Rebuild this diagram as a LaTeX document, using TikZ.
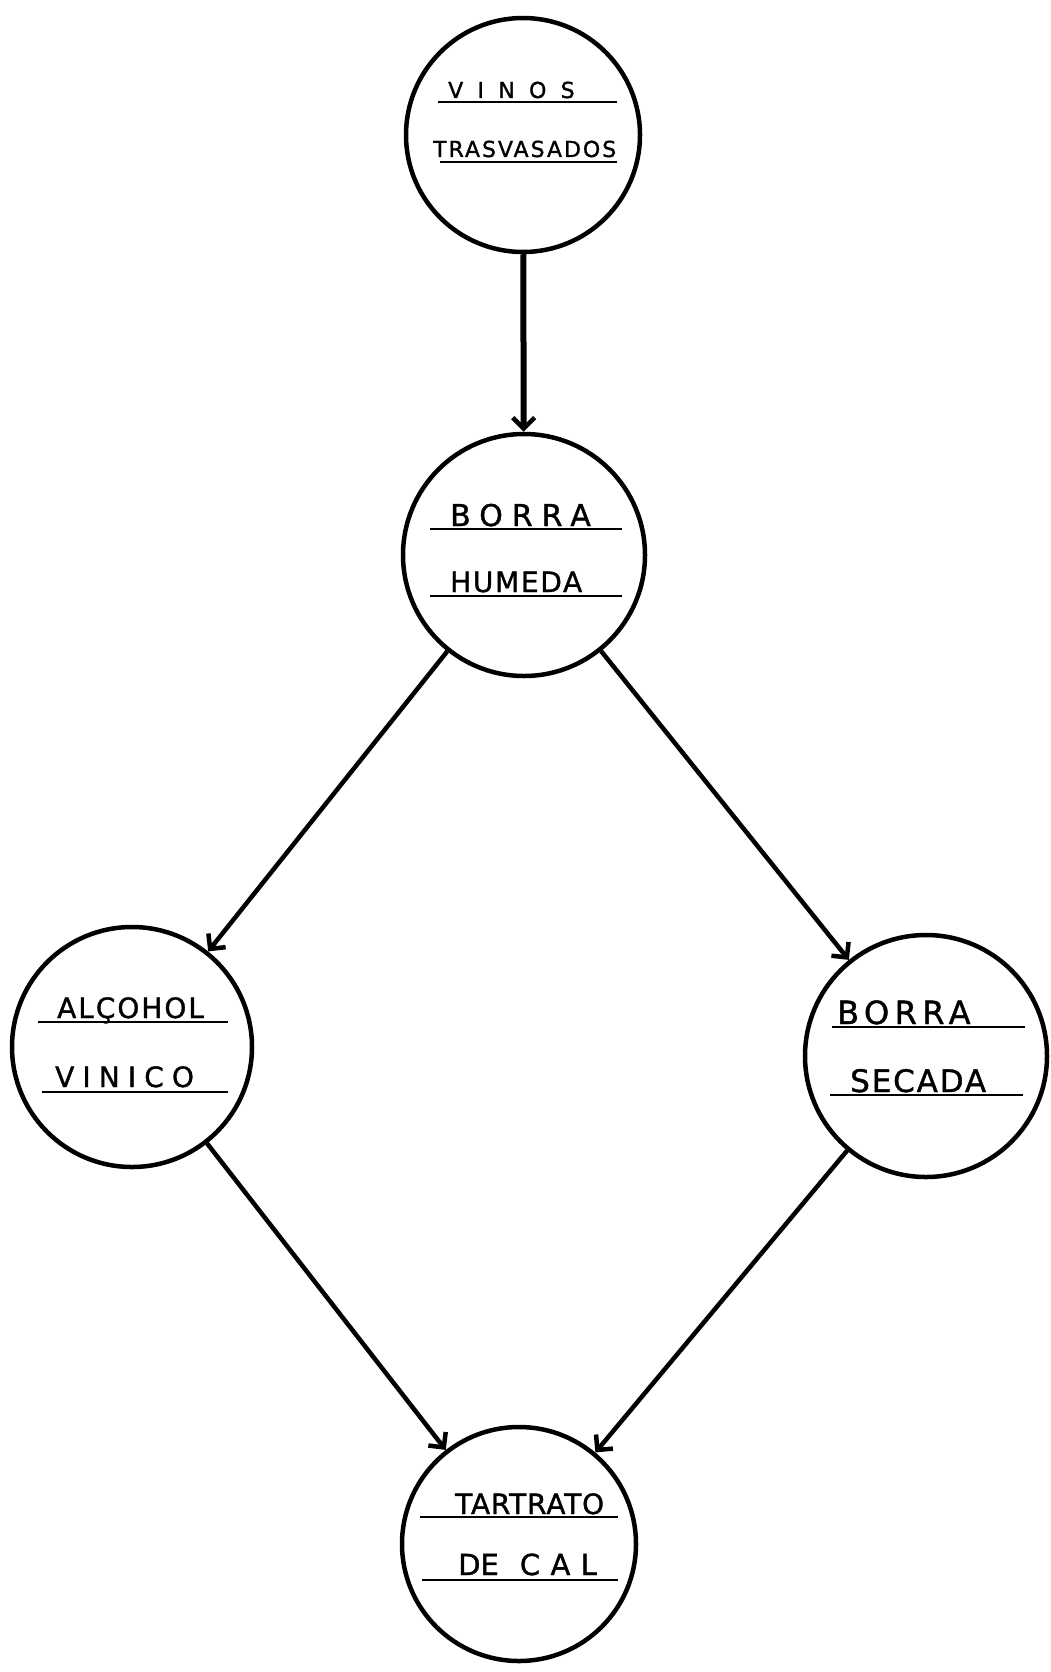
\documentclass[tikz,border=0pt]{standalone}
\usepackage{fontspec}
\setmainfont{DejaVu Sans}[FakeBold=1.2]
\usetikzlibrary{arrows.meta}
\tikzset{
  circ/.style={draw, circle, line width=4.5pt, inner sep=0pt},
  lbl/.style={anchor=base west, inner sep=0pt},
  uline/.style={line width=2.2pt},
  flow/.style={line width=4.5pt, -{Straight Barb[length=11pt,width=22pt,line width=4.5pt]}},
}
\newcommand{\lsp}[2]{\fontsize{#1}{#1}\selectfont\addfontfeatures{LetterSpace=#2}}
\begin{document}
\begin{tikzpicture}[x=1pt,y=-1pt]
\fill[white] (0,0) rectangle (1051,1672);
\useasboundingbox (0,0) rectangle (1051,1672);

% circles
\node[circ, minimum size=234pt] (c1) at (523,135) {};
\node[circ, minimum size=242pt] (c2) at (524,555) {};
\node[circ, minimum size=240pt] (c3) at (132,1047) {};
\node[circ, minimum size=242pt] (c4) at (926,1056) {};
\node[circ, minimum size=234pt] (c5) at (519,1544) {};

% labels
\node[lbl] (t1a) at (448,98) {\lsp{22}{65}VINOS};
\node[lbl] (t1b) at (433,157) {\lsp{22}{9}TRASVASADOS};
\node[lbl] (t2a) at (450,526) {\lsp{30}{30}BORRA};
\node[lbl] (t2b) at (450,592) {\lsp{28}{6}HUMEDA};
\node[lbl] (t3a) at (57,1018) {\lsp{28}{7}ALÇOHOL};
\node[lbl] (t3b) at (55,1087) {\lsp{28}{29}VINICO};
\node[lbl] (t4a) at (837,1024) {\lsp{32}{17}BORRA};
\node[lbl] (t4b) at (850,1092) {\lsp{31}{6}SECADA};
\node[lbl] (t5a) at (455,1514) {\lsp{28}{3}TARTRATO};
\node[lbl] (t5b) at (458,1575) {\lsp{29}{0}DE\hspace{21pt}{\addfontfeatures{LetterSpace=36}CAL}};

% underlines
\draw[uline] (438,102) -- (617,102);
\draw[uline] (440,162) -- (617,162);
\draw[uline] (430,529) -- (622,529);
\draw[uline] (430,596) -- (622,596);
\draw[uline] (38,1022) -- (228,1022);
\draw[uline] (42,1092) -- (228,1092);
\draw[uline] (832,1027) -- (1025,1027);
\draw[uline] (830,1095) -- (1023,1095);
\draw[uline] (420,1517) -- (618,1517);
\draw[uline] (422,1580) -- (618,1580);

% connectors
\draw[flow, line width=6pt] (c1) -- (c2);
\draw[flow] (c2) -- (c3);
\draw[flow] (c2) -- (c4);
\draw[flow] (c3) -- (c5);
\draw[flow] (c4) -- (c5);
\end{tikzpicture}
\end{document}
